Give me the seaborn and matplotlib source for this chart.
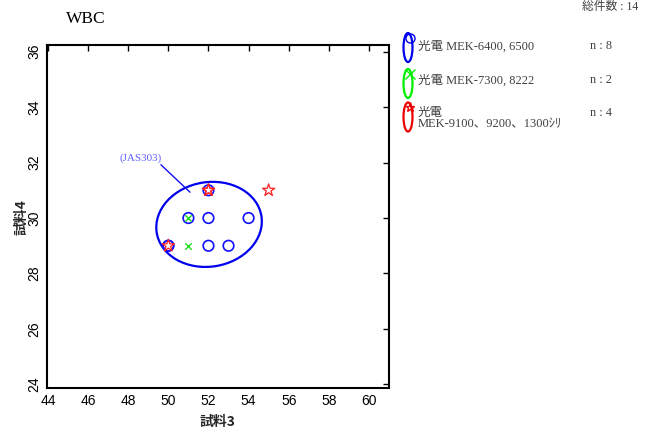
import matplotlib
matplotlib.use("Agg")
import matplotlib.pyplot as plt
import seaborn as sns
import pandas as pd
from matplotlib.patches import Ellipse
from matplotlib.transforms import ScaledTranslation
from matplotlib.lines import Line2D

# ---- data ----
blue_x = [52, 51, 52, 54, 50, 50, 52, 53]
blue_y = [31, 30, 30, 30, 29, 29, 29, 29]
green_x = [51, 51]
green_y = [30, 29]
red_x = [52, 52, 50, 55]
red_y = [31, 31, 29, 31]

series_labels = ["光電 MEK-6400, 6500", "光電 MEK-7300, 8222", "光電\nMEK-9100、9200、1300ｼﾘ"]
series_counts = ["n : 8", "n : 2", "n : 4"]
total_label = "総件数 : 14"
x_ticks = [44, 46, 48, 50, 52, 54, 56, 58, 60]
y_ticks = [24, 26, 28, 30, 32, 34, 36]

sns.set_style("white")
plt.rcParams['font.family'] = ['Liberation Sans', 'Noto Sans CJK JP']

fig = plt.figure(figsize=(6.51, 4.43), dpi=100)
ax = fig.add_axes([0.0722, 0.124, 0.5253, 0.774])

df_b = pd.DataFrame({"x": blue_x, "y": blue_y})
df_g = pd.DataFrame({"x": green_x, "y": green_y})
df_r = pd.DataFrame({"x": red_x, "y": red_y})

sns.scatterplot(data=df_b, x="x", y="y", ax=ax, marker="o", s=58,
                facecolors="none", edgecolors="#1010ff", linewidth=1.2, zorder=3)
sns.scatterplot(data=df_g, x="x", y="y", ax=ax, marker="x", s=22,
                color="#22dd22", linewidth=1.0, zorder=4)
sns.scatterplot(data=df_r, x="x", y="y", ax=ax, marker="*", s=85,
                facecolors="none", edgecolors="#ff2020", linewidth=0.9, zorder=5)

ax.set_xlim(43.95, 61.0)
ax.set_ylim(23.87, 36.23)
ax.set_xticks(x_ticks)
ax.set_yticks(y_ticks)
ax.tick_params(direction="in", length=4, width=1, top=True, right=True,
               labelsize=10, pad=4, colors="black")
for lab in ax.get_yticklabels():
    lab.set_rotation(90)
    lab.set_va("center")
for sp in ax.spines.values():
    sp.set_linewidth(1.5)
    sp.set_color("black")

ax.set_xlabel("試料3", fontsize=10, fontweight="bold", labelpad=5,
              family=['Noto Sans CJK JP'])
ax.set_ylabel("試料4", fontsize=10, fontweight="bold", labelpad=-1,
              family=['Noto Sans CJK JP'])

# group ellipse (pixel-sized, placed at data centre)
ell = Ellipse((0, 0), 1.06, 0.845, angle=9,
              transform=fig.dpi_scale_trans + ScaledTranslation(52.03, 29.77, ax.transData),
              fill=False, edgecolor="#0000ee", linewidth=1.6, zorder=2)
ax.add_patch(ell)

ax.annotate("", xy=(51.08, 30.93), xytext=(49.63, 31.92),
            arrowprops=dict(arrowstyle="-", color="#1010ee", lw=1.0,
                            shrinkA=0, shrinkB=0))
ax.text(48.6, 32.15, "(JAS303)", fontsize=8, color="#6060ff", ha="center",
        va="center", family=['Liberation Serif'])

fig.text(66/651, 1 - 19/443, "WBC", fontsize=12.5, family=['Liberation Serif'],
         va="center", ha="left", color="black")
fig.text(638/651, 1 - 7/443, total_label, fontsize=8.5,
         family=['Liberation Serif', 'Noto Sans CJK JP'], va="center", ha="right",
         color="#404040")

# legend
colors = ["#0000ee", "#00ee00", "#ee0000"]
mk = ["o", "x", "*"]
cy_px = [47.5, 83.5, 117]
text_y = [40, 74, 107]
for i in range(3):
    yc = 1 - cy_px[i] / 443
    e = Ellipse((408/651, yc), 9/651, 29/443, transform=fig.transFigure,
                fill=False, edgecolor=colors[i], linewidth=1.6)
    fig.add_artist(e)
    m = Line2D([410/651], [1 - (cy_px[i] - 10) / 443], marker=mk[i], color=colors[i],
               markerfacecolor="none", markersize=6.5, linestyle="none",
               transform=fig.transFigure, markeredgewidth=1.0)
    fig.add_artist(m)
    fig.text(418/651, 1 - text_y[i] / 443, series_labels[i], fontsize=9,
             family=['Liberation Serif', 'Noto Sans CJK JP'], va="top", ha="left",
             color="#404040", linespacing=0.95)
    fig.text(590/651, 1 - text_y[i] / 443, series_counts[i], fontsize=8.8,
             family=['Liberation Serif', 'Noto Sans CJK JP'], va="top", ha="left",
             color="#404040")

fig.savefig("out.png", dpi=100)
